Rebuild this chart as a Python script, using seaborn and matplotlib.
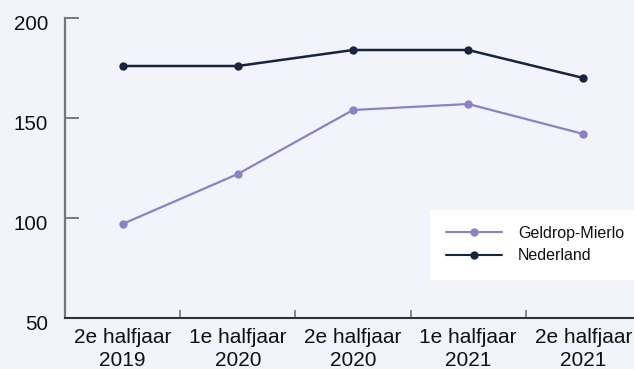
import matplotlib
matplotlib.use("Agg")
import matplotlib.pyplot as plt
import matplotlib.transforms as mtransforms
import seaborn as sns
import pandas as pd
from matplotlib.ticker import FixedLocator

periods = ["2e halfjaar\n2019", "1e halfjaar\n2020", "2e halfjaar\n2020",
           "1e halfjaar\n2021", "2e halfjaar\n2021"]
geldrop_mierlo = [97, 122, 154, 157, 142]
nederland = [176, 176, 184, 184, 170]
y_ticks = [50, 100, 150, 200]

df = pd.DataFrame({
    "periode": list(range(len(periods))) * 2,
    "waarde": geldrop_mierlo + nederland,
    "regio": ["Geldrop-Mierlo"] * len(periods) + ["Nederland"] * len(periods),
})

bg = "#f2f3fb"
sns.set_style("white")
plt.rcParams["font.family"] = ["Liberation Sans", "DejaVu Sans"]

fig = plt.figure(figsize=(6.34, 3.69), dpi=100, facecolor=bg)
ax = fig.add_axes([65 / 634, 51 / 369, 576 / 634, 300 / 369])
ax.set_facecolor(bg)

palette = {"Geldrop-Mierlo": "#8b82c6", "Nederland": "#17233f"}
sns.lineplot(data=df, x="periode", y="waarde", hue="regio", palette=palette,
             marker="o", markersize=6, markeredgewidth=0, ax=ax)
for line, lw in zip(ax.lines, [1.6, 1.8]):
    line.set_linewidth(lw)

ax.set_xlim(-0.5, len(periods) - 0.5)
ax.set_ylim(50, 200)
ax.set_xticks(range(len(periods)))
ax.set_xticklabels(periods, fontsize=15, color="#111111", linespacing=1.3)
ax.xaxis.set_minor_locator(FixedLocator([0.5, 1.5, 2.5, 3.5]))
ax.tick_params(axis="x", which="major", bottom=False, length=0, pad=7)
ax.tick_params(axis="x", which="minor", bottom=True, direction="in",
               length=6, width=1.2, color="#777777")
ax.set_yticks(y_ticks)
ax.set_yticklabels([str(v) for v in y_ticks], fontsize=14.8, color="#111111")
ax.tick_params(axis="y", left=True, direction="in", length=10, width=1.2,
               color="#666666", pad=12)
ax.yaxis.get_major_ticks()[-1].tick1line.set_color("#111111")
shift = mtransforms.ScaledTranslation(0, -4 / 100, fig.dpi_scale_trans)
for lab in ax.get_yticklabels():
    lab.set_transform(lab.get_transform() + shift)
ax.set_xlabel("")
ax.set_ylabel("")

sns.despine(ax=ax)
ax.spines["left"].set_color("#777777")
ax.spines["left"].set_linewidth(1.6)
ax.spines["bottom"].set_color("#333333")
ax.spines["bottom"].set_linewidth(1.5)

leg = ax.legend(loc="upper left", bbox_to_anchor=(0.634, 0.36), frameon=True,
                fancybox=False, fontsize=11.5, handlelength=3.5,
                handletextpad=1.0, borderpad=1.0, labelspacing=0.45,
                borderaxespad=0)
leg.get_frame().set_facecolor("white")
leg.get_frame().set_edgecolor("white")
leg.get_frame().set_alpha(1)
for t in leg.get_texts():
    t.set_color("#111111")

fig.savefig("out.png", dpi=100, facecolor=bg)
